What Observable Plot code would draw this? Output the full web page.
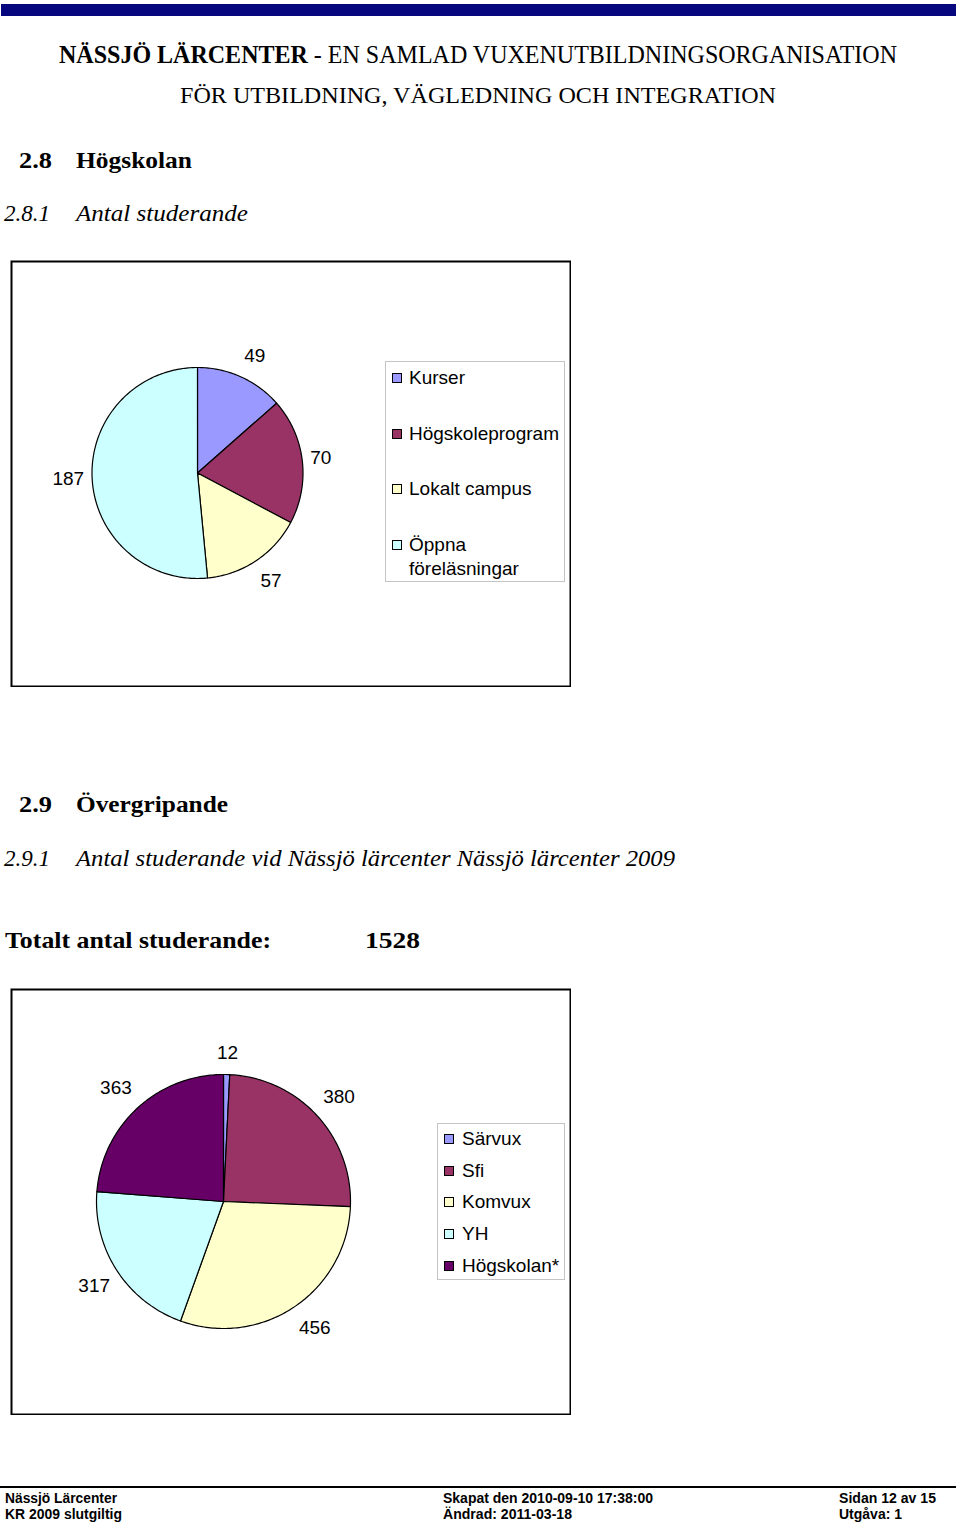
<!DOCTYPE html>
<html><head><meta charset="utf-8">
<script src="https://cdn.jsdelivr.net/npm/d3@7"></script>
<script src="https://cdn.jsdelivr.net/npm/@observablehq/plot@0.6"></script>
<style>
body{margin:0;background:#fff;}
#page{position:relative;width:960px;height:1523px;overflow:hidden;background:#fff;}
.abs{position:absolute;}
.legend{position:absolute;border:1px solid #c4c4c4;background:#fff;font-family:"Liberation Sans",Arial,sans-serif;font-size:19px;color:#000;box-sizing:border-box;}
.entry{position:absolute;left:0;right:0;line-height:24px;height:24px;}
.sw{position:absolute;width:8px;height:8px;border:1px solid #000;}
.lab{position:absolute;top:0;white-space:normal;}
.chart{position:absolute;}
</style></head>
<body><div id="page">
<svg id="txt" class="abs" width="960" height="1523" style="left:0;top:0">
  <rect x="1" y="4" width="955" height="12" fill="#06067f"/>
  <text x="59" y="63" textLength="838" lengthAdjust="spacingAndGlyphs" font-family="Liberation Serif" font-size="25"><tspan font-weight="bold">NÄSSJÖ LÄRCENTER</tspan> - EN SAMLAD VUXENUTBILDNINGSORGANISATION</text>
  <text x="180" y="103" textLength="596" lengthAdjust="spacingAndGlyphs" font-family="Liberation Serif" font-size="24">FÖR UTBILDNING, VÄGLEDNING OCH INTEGRATION</text>

  <g font-family="Liberation Serif" font-weight="bold" font-size="23">
    <text x="19" y="168" textLength="33" lengthAdjust="spacingAndGlyphs">2.8</text>
    <text x="76" y="168" textLength="116" lengthAdjust="spacingAndGlyphs">Högskolan</text>
    <text x="19" y="812" textLength="33" lengthAdjust="spacingAndGlyphs">2.9</text>
    <text x="76" y="812" textLength="152" lengthAdjust="spacingAndGlyphs">Övergripande</text>
    <text x="5" y="948" textLength="266" lengthAdjust="spacingAndGlyphs">Totalt antal studerande:</text>
    <text x="365" y="948" textLength="55" lengthAdjust="spacingAndGlyphs">1528</text>
  </g>
  <g font-family="Liberation Serif" font-style="italic" font-size="23">
    <text x="4" y="221" textLength="46" lengthAdjust="spacingAndGlyphs">2.8.1</text>
    <text x="76" y="221" textLength="172" lengthAdjust="spacingAndGlyphs">Antal studerande</text>
    <text x="4" y="866" textLength="46" lengthAdjust="spacingAndGlyphs">2.9.1</text>
    <text x="76" y="866" textLength="599" lengthAdjust="spacingAndGlyphs">Antal studerande vid Nässjö lärcenter Nässjö lärcenter 2009</text>
  </g>

  <line x1="0" x2="956" y1="1487" y2="1487" stroke="#000" stroke-width="2"/>
  <g font-family="Liberation Sans" font-weight="bold" font-size="14">
    <text x="5" y="1503" textLength="112" lengthAdjust="spacingAndGlyphs">Nässjö Lärcenter</text>
    <text x="5" y="1519" textLength="117" lengthAdjust="spacingAndGlyphs">KR 2009 slutgiltig</text>
    <text x="443" y="1503" textLength="210" lengthAdjust="spacingAndGlyphs">Skapat den 2010-09-10 17:38:00</text>
    <text x="443" y="1519" textLength="129" lengthAdjust="spacingAndGlyphs">Ändrad: 2011-03-18</text>
    <text x="839" y="1503" textLength="97" lengthAdjust="spacingAndGlyphs">Sidan 12 av 15</text>
    <text x="839" y="1519" textLength="63" lengthAdjust="spacingAndGlyphs">Utgåva: 1</text>
  </g>
</svg>
</div>
<script>
// ---- Data ----
const categories1 = ["Kurser", "Högskoleprogram", "Lokalt campus", "Öppna föreläsningar"];
const values1 = [49, 70, 57, 187];
const colors1 = ["#9999ff", "#993366", "#ffffcc", "#ccffff"];

const categories2 = ["Särvux", "Sfi", "Komvux", "YH", "Högskolan*"];
const values2 = [12, 380, 456, 317, 363];
const colors2 = ["#9999ff", "#993366", "#ffffcc", "#ccffff", "#660066"];

// ---- Pie chart built from Plot marks ----
function pieChart({names, values, colors, cx, cy, r, width, height}) {
  const total = d3.sum(values);
  const pts = [], labels = [];
  let acc = 0;
  values.forEach((v, i) => {
    const a0 = acc / total * 2 * Math.PI;
    acc += v;
    const a1 = acc / total * 2 * Math.PI;
    const n = Math.max(2, Math.ceil((a1 - a0) / (Math.PI / 180)));
    pts.push({name: names[i], px: cx, py: cy});
    for (let k = 0; k <= n; k++) {
      const a = a0 + (a1 - a0) * k / n;
      pts.push({name: names[i], px: cx + r * Math.sin(a), py: cy - r * Math.cos(a)});
    }
    // outside label, box pushed away from the pie edge
    const am = (a0 + a1) / 2, s = Math.sin(am), c = Math.cos(am);
    const hw = String(v).length * 5.3, hh = 14, gap = 8;
    labels.push({name: names[i], value: v,
      px: cx + (r + gap) * s + hw * Math.sign(s) * Math.min(1, Math.abs(s) / 0.4),
      py: cy - (r + gap) * c - hh * Math.sign(c) * Math.min(1, Math.abs(c) / 0.7)});
  });
  return Plot.plot({
    width, height, margin: 0,
    x: {domain: [0, width], range: [0, width], axis: null},
    y: {domain: [0, height], range: [0, height], axis: null},
    color: {domain: names, range: colors},
    style: {fontFamily: "'Liberation Sans', Arial, sans-serif", fontSize: "19px", background: "transparent", color: "#000"},
    marks: [
      Plot.frame({stroke: "#000", strokeWidth: 2, inset: 1}),
      Plot.line(pts, {x: "px", y: "py", z: "name", fill: "name", stroke: "#000", strokeWidth: 1.2,
        curve: "linear-closed", strokeLinejoin: "round"}),
      Plot.text(labels, {x: "px", y: "py", text: d => String(d.value), fontSize: 19, fill: "#000"})
    ]
  });
}

function legend({names, colors, left, top, w, h, first, step, swX, txtX, txtW}) {
  const box = document.createElement("div");
  box.className = "legend";
  Object.assign(box.style, {left: left + "px", top: top + "px", width: w + "px", height: h + "px"});
  names.forEach((nm, i) => {
    const e = document.createElement("div");
    e.className = "entry";
    e.style.top = (first + i * step - 12) + "px";
    const sw = document.createElement("div");
    sw.className = "sw";
    Object.assign(sw.style, {left: swX + "px", top: "7px", background: colors[i]});
    const lab = document.createElement("div");
    lab.className = "lab";
    Object.assign(lab.style, {left: txtX + "px", width: txtW + "px"});
    lab.textContent = nm;
    e.appendChild(sw); e.appendChild(lab);
    box.appendChild(e);
  });
  return box;
}

const page = document.getElementById("page");

const c1 = document.createElement("div");
c1.className = "chart";
Object.assign(c1.style, {left: "10px", top: "260px"});
c1.appendChild(pieChart({names: categories1, values: values1, colors: colors1, cx: 187, cy: 212.5, r: 105.5, width: 561, height: 427}));
page.appendChild(c1);
page.appendChild(legend({names: categories1, colors: colors1, left: 385, top: 361, w: 180, h: 221, first: 16, step: 55.5, swX: 6, txtX: 23, txtW: 150}));

const c2 = document.createElement("div");
c2.className = "chart";
Object.assign(c2.style, {left: "10px", top: "988px"});
c2.appendChild(pieChart({names: categories2, values: values2, colors: colors2, cx: 213, cy: 213, r: 127, width: 561, height: 427}));
page.appendChild(c2);
page.appendChild(legend({names: categories2, colors: colors2, left: 437, top: 1123, w: 128, h: 157, first: 15, step: 31.7, swX: 6, txtX: 24, txtW: 104}));
</script>
</body></html>
